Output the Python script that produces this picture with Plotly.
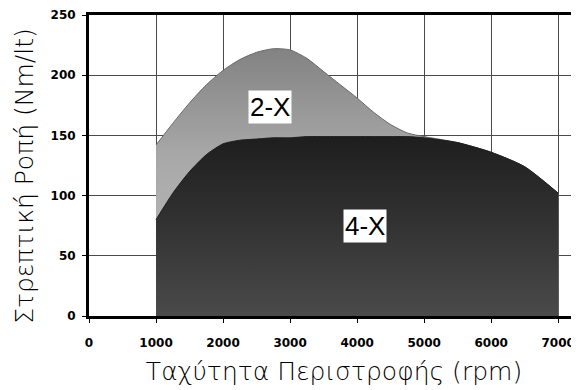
import plotly.graph_objects as go

# Data (rpm vs torque Nm/lt)
rpm = [1000, 1250, 1500, 1750, 2000, 2250, 2500, 2750, 3000, 3250, 3500, 3750, 4000, 4250, 4500, 4750, 5000, 5500, 6000, 6500, 7000]
torque_2x = [142, 160, 177, 192, 204, 213, 219, 222, 221, 214, 203, 192, 181, 169, 159, 152, 149, 144, 136, 124, 102]
torque_4x = [80, 102, 120, 134, 143, 146, 147, 148, 148, 149, 149, 149, 149, 149, 149, 149, 148, 144, 136, 124, 102]

x_ticks = [0, 1000, 2000, 3000, 4000, 5000, 6000, 7000]
y_ticks = [0, 50, 100, 150, 200, 250]
label_2x = "2-X"
label_4x = "4-X"
x_title = "Ταχύτητα Περιστροφής (rpm)"
y_title = "Στρεπτική Ροπή (Nm/lt)"

fig = go.Figure()
fig.add_trace(go.Scatter(
    x=rpm, y=torque_2x, mode="lines", fill="tozeroy",
    line=dict(color="#6a6a6a", width=1, shape="spline", smoothing=0.7),
    fillgradient=dict(type="vertical", colorscale=[[0, "#c0c0c0"], [0.6, "#a8a8a8"], [1, "#828282"]]),
    showlegend=False, hoverinfo="skip"))
fig.add_trace(go.Scatter(
    x=rpm, y=torque_4x, mode="lines", fill="tozeroy",
    line=dict(color="#1e1e1e", width=1, shape="spline", smoothing=0.6),
    fillgradient=dict(type="vertical", colorscale=[[0, "#4a4a4a"], [0.5, "#333333"], [1, "#1e1e1e"]]),
    showlegend=False, hoverinfo="skip"))

fig.add_annotation(x=2700, y=174, text=label_2x, showarrow=False, bgcolor="white",
                   font=dict(family="Liberation Sans", size=26, color="black"), borderpad=1)
fig.add_annotation(x=4120, y=75, text=label_4x, showarrow=False, bgcolor="white",
                   font=dict(family="Liberation Sans", size=26, color="black"), borderpad=1)

title_font = dict(family="DejaVu Sans", size=25, weight=200, color="black")
tick_font = dict(family="DejaVu Sans", size=12, weight="bold", color="black")

# y-axis title placed as an annotation so it can sit slightly below the axis centre
fig.add_annotation(xref="paper", yref="paper", x=-0.133, y=0.465, text=y_title,
                   textangle=-90, showarrow=False, font=title_font,
                   xanchor="center", yanchor="middle")

# page body has an 8px margin, so the figure is 8px smaller and margins offset
fig.update_layout(
    width=571, height=382,
    margin=dict(l=81, r=0, t=7, b=74),
    paper_bgcolor="white", plot_bgcolor="white",
    font=dict(family="DejaVu Sans", color="black"),
    xaxis=dict(range=[0, 7310], tickvals=x_ticks, ticktext=[str(v) for v in x_ticks],
               automargin=False,
               showgrid=True, gridcolor="#4a4a4a", gridwidth=1,
               showline=True, linecolor="black", linewidth=3, mirror=True,
               ticks="outside", ticklen=4, tickcolor="black",
               tickfont=tick_font, ticklabelstandoff=10, zeroline=False,
               title=dict(text=x_title, font=title_font, standoff=14)),
    yaxis=dict(range=[0, 250], tickvals=y_ticks, automargin=False,
               showgrid=True, gridcolor="#4a4a4a", gridwidth=1,
               showline=True, linecolor="black", linewidth=3,
               ticks="outside", ticklen=4, tickcolor="black",
               tickfont=tick_font, ticklabelstandoff=4, zeroline=False),
)

fig.write_html("out.html")
